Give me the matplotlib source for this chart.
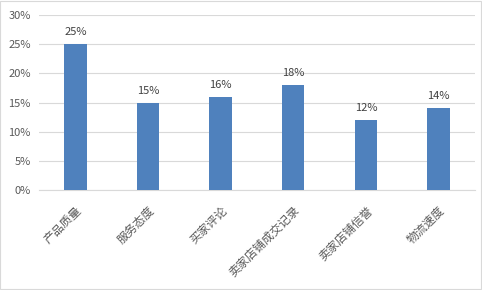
import matplotlib
matplotlib.use('Agg')
import matplotlib.pyplot as plt
from matplotlib.ticker import PercentFormatter

plt.rcParams['font.family'] = ['Noto Sans CJK SC', 'DejaVu Sans']

# data
categories = ['产品质量', '服务态度', '买家评论', '卖家店铺成交记录', '卖家店铺信誉', '物流速度']
values = [25, 15, 16, 18, 12, 14]
yticks = [0, 5, 10, 15, 20, 25, 30]

fig = plt.figure(figsize=(4.82, 2.90), dpi=100)
ax = fig.add_axes([0.081, 0.345, 0.904, 0.603])

bars = ax.bar(range(len(categories)), values, width=0.31, color='#4f81bd', zorder=3)
for b, v in zip(bars, values):
    ax.text(b.get_x() + b.get_width() / 2, v + 1.2, f'{v}%', ha='center', va='bottom',
            fontsize=8, color='#404040')

ax.set_xlim(-0.5, len(categories) - 0.5)
ax.set_ylim(0, 30)
ax.set_yticks(yticks)
ax.yaxis.set_major_formatter(PercentFormatter(decimals=0))
ax.grid(axis='y', color='#d9d9d9', linewidth=0.8, zorder=0)
for s in ['top', 'right', 'left']:
    ax.spines[s].set_visible(False)
ax.spines['bottom'].set_color('#d9d9d9')
ax.tick_params(axis='both', length=0, labelcolor='#595959')
ax.tick_params(axis='y', pad=6, labelsize=8)

ax.set_xticks(range(len(categories)))
ax.set_xticklabels(categories, rotation=45, ha='right', rotation_mode='anchor')
ax.tick_params(axis='x', pad=10, labelsize=8.5)

# light border around the chart
fig.patches.append(plt.Rectangle((0.001, 0.002), 0.997, 0.995, transform=fig.transFigure,
                                 fill=False, edgecolor='#d9d9d9', linewidth=0.8))

fig.savefig('out.png', dpi=100)
